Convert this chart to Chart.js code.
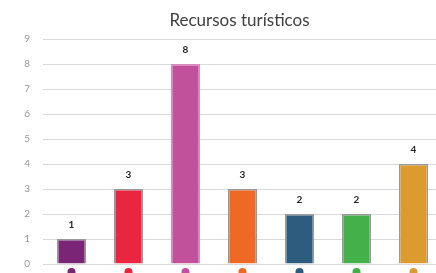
<!DOCTYPE html>
<html>
<head>
<meta charset="utf-8">
<script src="https://cdn.jsdelivr.net/npm/chart.js@4"></script>
<style>
  html, body { margin: 0; padding: 0; background: #fff; overflow: hidden; }
  canvas { display: block; }
</style>
</head>
<body>
<canvas id="chart" width="450" height="273"></canvas>
<script>
// Data
const categories = ['1', '2', '3', '4', '5', '6', '7'];
const values = [1, 3, 8, 3, 2, 2, 4];
const barColors = ['#7B2577', '#E92541', '#C2519C', '#EE6A24', '#2D5C7E', '#44B04A', '#DB9B2F'];
const borderColors = ['#999', '#999', '#D98BC0', '#999', '#999', '#999', '#999'];
const yTicks = [0, 1, 2, 3, 4, 5, 6, 7, 8, 9];

const titleText = 'Recursos turísticos';
const FONT = 'Lato, "Open Sans", sans-serif';

// title over the plot area
const titlePlugin = {
    id: 'titleText',
    afterDraw(chart) {
        const c = chart.ctx;
        const area = chart.chartArea;
        c.save();
        c.font = '17px ' + FONT;
        c.fillStyle = '#404040';
        c.textAlign = 'center';
        c.textBaseline = 'middle';
        c.fillText(titleText, (area.left + area.right) / 2 - 3, 21);
        c.restore();
    }
};

// value labels above bars
const valueLabels = {
    id: 'valueLabels',
    afterDatasetsDraw(chart) {
        const c = chart.ctx;
        const meta = chart.getDatasetMeta(0);
        c.save();
        c.font = 'bold 10px ' + FONT;
        c.fillStyle = '#262626';
        c.textAlign = 'center';
        c.textBaseline = 'middle';
        meta.data.forEach((bar, i) => {
            c.fillText(values[i], bar.x, bar.y - 14);
        });
        c.restore();
    }
};

// coloured dots under each category (cut off by the bottom edge)
const dotMarkers = {
    id: 'dotMarkers',
    afterDraw(chart) {
        const c = chart.ctx;
        const xs = chart.scales.x;
        c.save();
        categories.forEach((cat, i) => {
            c.beginPath();
            c.arc(xs.getPixelForValue(i), 272, 4, 0, Math.PI * 2);
            c.fillStyle = barColors[i];
            c.fill();
        });
        c.restore();
    }
};

new Chart(document.getElementById('chart'), {
    type: 'bar',
    data: {
        labels: categories,
        datasets: [{
            data: values,
            backgroundColor: barColors,
            borderColor: borderColors,
            borderWidth: 1.5,
            barPercentage: 0.51,
            categoryPercentage: 1
        }]
    },
    options: {
        responsive: false,
        animation: false,
        layout: { padding: { top: 39, left: 0, right: 8, bottom: 9 } },
        plugins: {
            legend: { display: false },
            tooltip: { enabled: false },
            title: { display: false }
        },
        scales: {
            x: {
                display: false
            },
            y: {
                min: 0,
                max: 9,
                afterBuildTicks(scale) { scale.ticks = yTicks.map(v => ({ value: v })); },
                grid: { color: '#D9D9D9', lineWidth: 1, drawTicks: true, tickLength: 10, tickColor: 'rgba(0,0,0,0)' },
                border: { display: false },
                ticks: {
                    color: '#999',
                    padding: 3,
                    font: { family: FONT, size: 10 }
                },
                afterFit(scale) { scale.width = 43; }
            }
        }
    },
    plugins: [titlePlugin, valueLabels, dotMarkers]
});
</script>
</body>
</html>
